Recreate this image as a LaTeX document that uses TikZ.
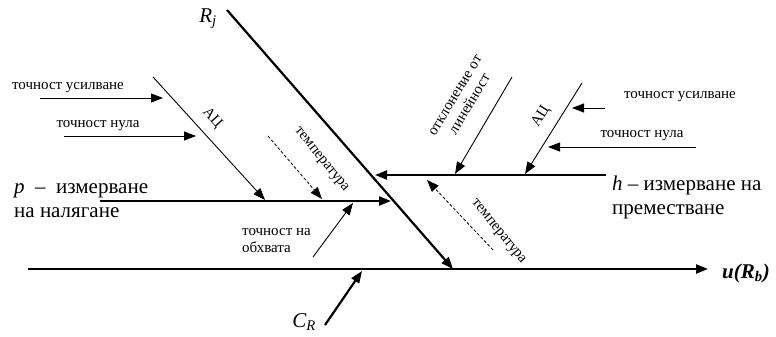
\documentclass[tikz,border=0pt]{standalone}
\usepackage{fontspec}
\setmainfont{Liberation Serif}
\usetikzlibrary{arrows.meta}

\tikzset{
  bone/.style={line width=2.2pt, -{Triangle[length=12pt,width=9pt]}},
  twig/.style={line width=0.9pt, -{Triangle[length=12pt,width=9pt]}},
  hint/.style={line width=0.8pt, dashed, dash pattern=on 3pt off 2pt, -{Triangle[length=12pt,width=9pt]}},
  lbl/.style={font=\fontsize{15}{17}\selectfont, inner sep=0pt},
  biglbl/.style={font=\fontsize{21}{24}\selectfont, inner sep=0pt, align=left},
}

\begin{document}
\begin{tikzpicture}[x=1pt,y=-1pt]
\useasboundingbox (0,0) rectangle (776,337);

% main axis and the R_j spine
\coordinate (u0) at (28,269);
\coordinate (u1) at (708,269);
\coordinate (r0) at (227,10);
\coordinate (r1) at (453,269);
\draw[bone] (u0) -- (u1);
\draw[bone] (r0) -- (r1);
\node (ub) at (746,273) {\fontsize{21}{24}\selectfont\textbf{\textit{u(R\textsubscript{b})}}};
\node (rj) at (208,19) {\fontsize{21}{24}\selectfont\textit{R\textsubscript{j}}};

% p branch
\coordinate (p0) at (100,201);
\coordinate (p1) at (391,201);
\draw[bone] (p0) -- (p1);
\node[biglbl, anchor=west] (plbl) at (14,201) {\textit{p}\enspace–\enspace измерване\\на налягане};

% h branch
\coordinate (h0) at (606,175);
\coordinate (h1) at (375,175);
\draw[bone] (h0) -- (h1);
\node[biglbl, anchor=west] (hlbl) at (612,197) {\textit{h} – измерване на\\преместване};

% left ADC
\coordinate (a0) at (153,77);
\coordinate (a1) at (265,200);
\draw[twig] (a0) -- (a1);
\node[lbl, rotate=-48] (alc) at (212,118) {АЦ};
\coordinate (ga0) at (40,98);
\coordinate (ga1) at (163,98);
\draw[twig] (ga0) -- (ga1);
\node[lbl] (galbl) at (68,88) {точност усилване};
\coordinate (gn0) at (64,136);
\coordinate (gn1) at (196,136);
\draw[twig] (gn0) -- (gn1);
\node[lbl] (gnlbl) at (98,126) {точност нула};

% left temperature
\coordinate (t0) at (268,136);
\coordinate (t1) at (322,199);
\draw[hint] (t0) -- (t1);
\node[lbl, rotate=-51] (tlbl) at (321,160) {температура};

% range accuracy
\coordinate (o0) at (313,257);
\coordinate (o1) at (353,203);
\draw[twig] (o0) -- (o1);
\node[lbl, align=left, anchor=north west] (olbl) at (242,228) {точност на\\обхвата};

% C_R
\coordinate (c0) at (325,325);
\coordinate (c1) at (362,271);
\draw[bone] (c0) -- (c1);
\node (cr) at (304,322) {\fontsize{21}{24}\selectfont\textit{C\textsubscript{R}}};

% linearity
\coordinate (l0) at (512,77);
\coordinate (l1) at (455,174);
\draw[twig] (l0) -- (l1);
\node[lbl, rotate=59, align=center] (llbl) at (463,100) {отклонение от\\линейност};

% right ADC
\coordinate (b0) at (582,83);
\coordinate (b1) at (525,174);
\draw[twig] (b0) -- (b1);
\node[lbl, rotate=58] (blc) at (541,117) {АЦ};
\coordinate (gb0) at (605,108);
\coordinate (gb1) at (572,108);
\draw[twig] (gb0) -- (gb1);
\node[lbl] (gblbl) at (680,97) {точност усилване};
\coordinate (gm0) at (696,147);
\coordinate (gm1) at (548,147);
\draw[twig] (gm0) -- (gm1);
\node[lbl] (gmlbl) at (642,136) {точност нула};

% right temperature
\coordinate (s0) at (493,250);
\coordinate (s1) at (427,180);
\draw[hint] (s0) -- (s1);
\node[lbl, rotate=-51] (slbl) at (498,232) {температура};
\end{tikzpicture}
\end{document}
